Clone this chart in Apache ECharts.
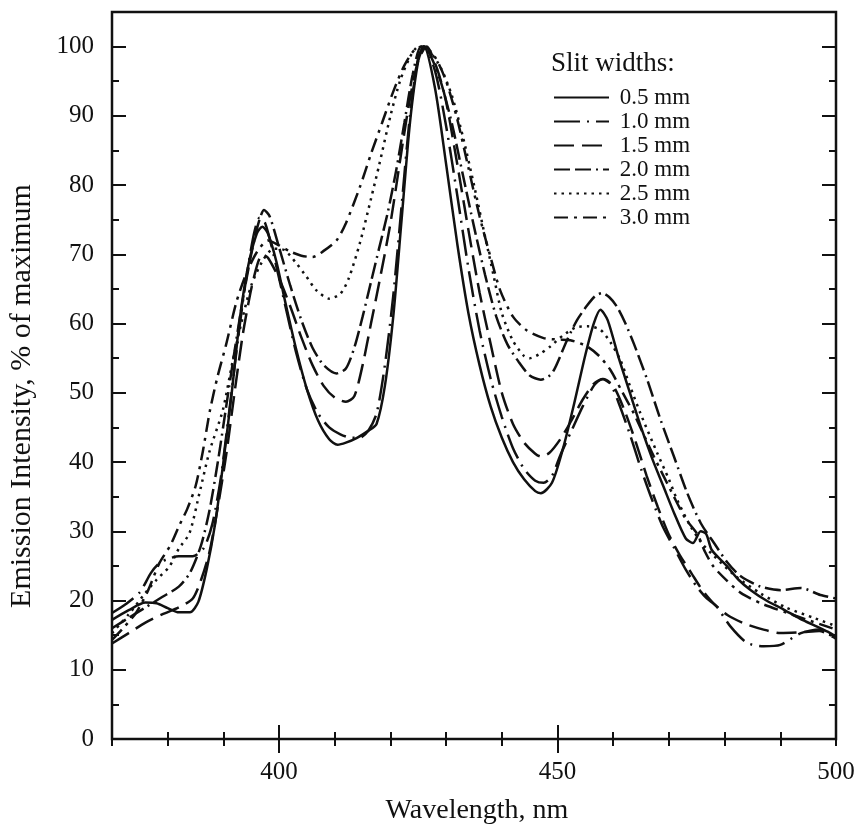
<!DOCTYPE html>
<html><head><meta charset="utf-8">
<script src="https://cdn.jsdelivr.net/npm/echarts@6/dist/echarts.min.js"></script>
<style>html,body{margin:0;padding:0;background:#fff}#c{width:861px;height:834px}</style>
</head><body><div id="c"></div><script>
// ---- data (wavelength nm, % of maximum) ----
const slitNames = ['0.5 mm', '1.0 mm', '1.5 mm', '2.0 mm', '2.5 mm', '3.0 mm'];

const slit05 = [[370,17.2],[373,18.6],[376,19.7],[378,19.6],[380,18.9],[382,18.3],[384,18.3],[385.5,19.8],[387,24.5],[388.5,31],[390,40],[391.5,50],[393,61],[394.5,68.5],[396,73],[397,74],[398,73],[399.5,69],[401,63.5],[403,56.5],[405,50.5],[407,46],[409,43.3],[410.5,42.5],[412,42.8],[414,43.5],[416,44.5],[417.5,45.5],[419,51],[420.5,61],[422,75],[423.5,89],[425,98],[426,100],[428,94],[430,83],[432,71.5],[434,61.5],[436,54],[438,48],[440,43.5],[442,40],[444,37.5],[446,35.8],[447,35.5],[449,37],[451,42],[453,48.5],[455,55.5],[456.5,60],[457.7,62],[459,60.5],[461,55],[463,50],[465,45],[467,40.5],[469,36.5],[471,32.5],[473,29],[474.3,28.3],[475.7,30],[476.7,29.6],[477.7,27.3],[480.5,24.9],[482.5,23],[484.7,21.5],[487.5,20],[490.6,18.7],[493.5,17.4],[496.7,16.2],[498.5,15.5],[500,14.8]];

const slit10 = [[370,18.2],[372.5,19.5],[375,21.2],[377,24],[378.5,25.4],[380,26],[382,26.4],[384.5,26.4],[386.5,27.6],[388,31],[389.5,37.5],[391,47],[392.5,57],[394,66],[395.5,73],[396.5,75.3],[397.5,74.5],[399,70],[401,63],[403,56],[405,50.5],[407,47],[409,45],[411,44],[413,43.5],[414.5,43.5],[416,44.5],[417.5,47],[419,54],[420.5,64],[422,77],[423.5,90],[425,98.5],[426,100],[428,96.5],[430,88.5],[432,78.5],[434,68],[436,59],[438,52],[440,46.5],[442,42],[444,39],[446,37.3],[447.5,37],[449,38],[450.5,41],[452.5,44.5],[454.5,48],[456.5,51],[458,52],[459.5,51.3],[461,48.5],[463,44],[465,39],[467,34.5],[469,30.5],[471,27.5],[473,24.5],[475,22],[476.8,20.3],[478.5,19.2],[481,16.3],[484,13.9],[487,13.4],[490,13.6],[493.7,15.3],[497,15.8],[500,14.4]];

const slit15 = [[370,13.8],[373,15.3],[376,16.8],[379,18],[382,19],[384.5,20.3],[386,23],[387.5,27],[389,33.5],[390.5,41],[392,50],[393.5,58.5],[395,65],[396.2,68.8],[397,70],[398,69.5],[400,66.5],[402,62.5],[404,58],[406,54],[408,51],[410,49.3],[412,48.7],[413.5,49.5],[415,54],[416.5,60],[418,66],[420,74.5],[422,85],[423.5,92.5],[425,98],[426.5,100],[428.5,96.5],[430,92],[432,83],[434,73.5],[436,64.5],[438,57],[440,50],[442,45.5],[444,42.8],[446,41.2],[447,40.8],[448.5,41.3],[450.5,43.3],[452.5,46],[454.5,49],[456.5,51.3],[458.2,52],[460,51],[462,47.5],[464,43],[466,38],[468,33.5],[470,29.5],[472,26.5],[474,24],[476,21.5],[478,19.6],[480.5,17.9],[483.5,16.7],[487,15.8],[490,15.3],[493.7,15.4],[497,15.6],[500,14.5]];

const slit20 = [[370,16],[373,17.5],[376,19],[379,20.5],[382,22],[384,24],[386,28],[387.5,33],[389,40],[390.5,48],[392,56],[393.5,63.5],[395,70],[396.3,74.5],[397.3,76.4],[398.3,75.5],[400,71],[402,65.5],[404,60.5],[406,56.5],[408,54],[410.3,52.8],[412,53.5],[413.5,56.5],[415,61],[416.5,66],[418,71],[419.5,76],[421,82],[422.5,89],[424,96],[425.5,100],[427,99],[429,95],[431,89],[433,81.5],[435,74],[437,67],[439,61],[441,57],[443,54.5],[445,52.5],[447,51.9],[449,52.8],[451.7,57.6],[453.5,60.5],[455.3,62.6],[456.8,64],[458,64.4],[459.3,63.8],[460.7,62.4],[462.2,60],[463.7,57.1],[466.1,51.9],[468.5,46.1],[470.9,40.8],[473.3,35.5],[475.7,31.2],[478.1,28.3],[480.5,25.5],[482.9,23.5],[486.5,22],[490.1,21.5],[493.7,21.8],[497.2,20.8],[500,20.3]];

const slit25 = [[370,15.3],[373,18],[376,21.1],[378,23],[380.3,24.9],[382,27.5],[383.9,29.7],[385.7,35.5],[387.5,41.5],[389.9,47.5],[391.7,54.7],[393.5,61],[395,65.5],[397,69],[399,70.8],[401,70.6],[403.1,68.7],[404.9,66.8],[406.7,64.8],[409,63.6],[411,64.3],[412.5,66.5],[414.5,71.6],[416.5,78],[418,83],[420,90],[421.7,95],[423.5,98.5],[425,100],[427,99.3],[429,97],[431,93],[433,87],[435,80],[437,72.5],[438.5,67],[440,61.5],[442,57.5],[444,55.3],[445,55],[447,55.7],[448.7,56.7],[451,58.3],[453.5,59.5],[455.5,59.6],[457.7,59.1],[459.5,57.3],[461.3,54.7],[463,51],[464.9,47],[467.9,41.3],[470,37.5],[471.5,34.5],[473.9,30.7],[476,28.2],[478,26.5],[482,23.5],[486.5,21],[491,19],[496,17.5],[500,16.3]];

const slit30 = [[370,14.3],[372,16],[374.3,18.2],[376.5,21.5],[378.5,25.4],[380.5,28],[382,30.7],[383.5,33.2],[385,36.5],[386.3,41.5],[387.6,47.5],[389,52.5],[390.5,57],[392.3,63],[394,67],[396,70.3],[398,72],[400,71.3],[402,70.4],[404,69.8],[406,69.6],[408,70.5],[410.3,72],[412,74.5],[414.5,79.7],[416.5,84.5],[418.5,89],[420.5,93.5],[422.5,97.3],[424.5,99.7],[426,100],[428,98.5],[430,95],[432,89.5],[434,82.5],[436,75.5],[438,69.5],[439.7,64.8],[442,61],[444.5,59],[447.5,57.9],[450,57.7],[452.3,57.6],[455.3,56.7],[457.5,55.3],[459.5,53.3],[461.5,50.3],[463.7,47],[467.3,40.8],[470.9,35],[473,31.8],[475.1,29.6],[476.5,27],[478,24.9],[480.5,22.8],[482.9,21.1],[486.5,19.6],[491.3,18.2],[494.9,17.2],[500,15.8]];

// ---- axis ticks / labels ----
const xTickLabels = [400, 450, 500];
const xMajorTicks = [400, 450];
const yTickLabels = [0, 10, 20, 30, 40, 50, 60, 70, 80, 90, 100];
const yMajorTicks = [10, 20, 30, 40, 50, 60, 70, 80, 90, 100];

// ---- styles ----
const FONT = "'Liberation Serif', 'Times New Roman', serif";
const INK = '#111';
const NONE = 'rgba(0,0,0,0)';
const dashes = ['solid', [26, 7, 2, 7], [20, 8], [16, 5, 16, 5, 2, 5], [2.5, 5], [14, 6, 3, 6]];
const curves = [slit05, slit10, slit15, slit20, slit25, slit30];

const chart = echarts.init(document.getElementById('c'), null, { renderer: 'canvas' });

function xAx(pos, ticks, len, labels) {
  const a = {
    type: 'value', min: 370, max: 500, interval: 10, position: pos,
    axisLine: { show: false }, splitLine: { show: false },
    axisTick: { show: true, inside: true, length: len, lineStyle: { color: INK, width: 2 } },
    axisLabel: { show: false }
  };
  if (ticks) a.axisTick.customValues = ticks;
  if (labels) a.axisLabel = { show: true, customValues: labels, margin: 21, color: INK, fontFamily: FONT, fontSize: 25 };
  return a;
}
function yAx(pos, ticks, len, labels) {
  const a = {
    type: 'value', min: 0, max: 105, interval: 5, position: pos,
    axisLine: { show: false }, splitLine: { show: false },
    axisTick: { show: true, inside: true, length: len, lineStyle: { color: INK, width: 2 } },
    axisLabel: { show: false }
  };
  if (ticks) a.axisTick.customValues = ticks;
  if (labels) a.axisLabel = { show: true, customValues: labels, margin: 18, color: INK, fontFamily: FONT, fontSize: 25 };
  return a;
}

chart.setOption({
  animation: false,
  backgroundColor: '#fff',
  grid: { left: 112, top: 12, width: 724, height: 727, show: true, borderColor: INK, borderWidth: 2.5, backgroundColor: 'transparent' },
  xAxis: [
    xAx('bottom', null, 7, xTickLabels),
    xAx('bottom', xMajorTicks, 14, null),
    xAx('top', null, 7, null),
    xAx('top', xMajorTicks, 14, null)
  ],
  yAxis: [
    yAx('left', null, 7, yTickLabels),
    yAx('left', yMajorTicks, 14, null),
    yAx('right', null, 7, null),
    yAx('right', yMajorTicks, 14, null)
  ],
  title: {
    text: 'Slit widths:', left: 546, top: 45,
    textStyle: { fontFamily: FONT, fontSize: 27, fontWeight: 'normal', color: INK }
  },
  legend: {
    data: slitNames, orient: 'vertical', left: 553, top: 86, padding: 0,
    itemWidth: 55, itemHeight: 14, itemGap: 1,
    selectedMode: false,
    itemStyle: { color: NONE, borderColor: NONE, borderWidth: 0 },
    formatter: n => ' ' + n,
    textStyle: { fontFamily: FONT, fontSize: 23, color: INK, lineHeight: 22 }
  },
  graphic: [
    { type: 'text', x: 477, y: 811, style: { text: 'Wavelength, nm', align: 'center', verticalAlign: 'middle', font: "28px 'Liberation Serif', serif", fill: INK } },
    { type: 'text', x: 22, y: 396, rotation: Math.PI / 2, style: { text: 'Emission Intensity, % of maximum', align: 'center', verticalAlign: 'middle', font: "30px 'Liberation Serif', serif", fill: INK } }
  ],
  series: curves.map((d, i) => ({
    name: slitNames[i], type: 'line', data: d, xAxisIndex: 0, yAxisIndex: 0,
    symbol: 'none', smooth: 0.25, clip: true,
    itemStyle: { color: NONE, borderColor: NONE },
    lineStyle: { color: INK, width: 2.5, type: dashes[i], cap: 'butt' }
  }))
});
</script></body></html>
